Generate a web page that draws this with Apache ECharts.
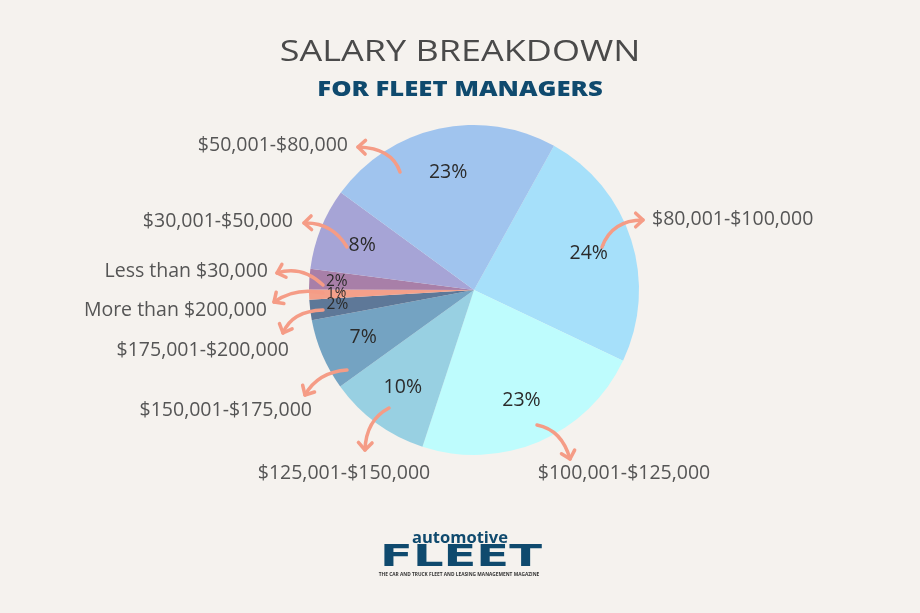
<!DOCTYPE html>
<html><head><meta charset="utf-8">
<script src="https://cdn.jsdelivr.net/npm/echarts@6/dist/echarts.min.js"></script>
<style>html,body{margin:0;padding:0;background:#f5f2ee;}#c{width:920px;height:613px;}</style>
</head><body><div id="c"></div>
<script>
// ---- data ----
const categories = ['$80,001-$100,000','$100,001-$125,000','$125,001-$150,000','$150,001-$175,000','$175,001-$200,000','More than $200,000','Less than $30,000','$30,001-$50,000','$50,001-$80,000'];
const values = [24, 23, 10, 7, 2, 1, 2, 8, 23];
const colors = ['#a6e0fa','#befcfd','#98d0e2','#74a3c2','#5e7898','#f4a08a','#a87fa8','#a6a4d6','#a0c4ee'];

// ---- annotation layout (category labels & curved arrows) ----
const labelPos = [[652,219,'left'],[624,473,'center'],[344,473,'center'],[312,410,'right'],[289,350,'right'],[267,310,'right'],[268,271,'right'],[293,221,'right'],[348,145,'right']];
// arrow: start x,y ; control x,y ; tip x,y
const arrows = [
  [602,247, 612,220, 643,220],
  [537,425, 562,430, 570,459],
  [389,408, 366,420, 365,450],
  [347,370, 318,372, 305,395],
  [323,310, 292,311, 283,333],
  [323,293, 296,287, 274,302],
  [323,285, 302,265, 277,273],
  [347,247, 332,222, 304,223],
  [400,172, 392,148, 358,147]
];

const FONT = '"Open Sans", Lato, sans-serif';
const ARROW = '#f59c86';
const center = [474, 290];
const pieData = categories.map((c, i) => ({name: c, value: values[i], itemStyle: {color: colors[i]}}));
const pctData = categories.map((c, i) => ({name: c, value: values[i]}));
const lblData = categories.map((c, i) => ({name: c, value: values[i]}));

const arrowGraphics = [];
arrows.forEach(a => {
  const [sx, sy, cx, cy, tx, ty] = a;
  arrowGraphics.push({type: 'bezierCurve', z: 10, shape: {x1: sx, y1: sy, cpx1: cx, cpy1: cy, x2: tx, y2: ty},
    style: {stroke: ARROW, lineWidth: 3.5, lineCap: 'round', fill: null}});
  const ang = Math.atan2(ty - cy, tx - cx);
  const L = 10, s = 0.75;
  arrowGraphics.push({type: 'polyline', z: 10, shape: {points: [
      [tx - L * Math.cos(ang - s), ty - L * Math.sin(ang - s)], [tx, ty],
      [tx - L * Math.cos(ang + s), ty - L * Math.sin(ang + s)]]},
    style: {stroke: ARROW, lineWidth: 3.5, lineCap: 'round', lineJoin: 'round', fill: null}});
});

const chart = echarts.init(document.getElementById('c'));
chart.setOption({
  backgroundColor: '#f5f2ee',
  animation: false,
  series: [
    {
      type: 'pie', center: center, radius: 165, startAngle: 61, clockwise: true, z: 1,
      data: pieData, label: {show: false}, labelLine: {show: false}, silent: true
    },
    {
      type: 'pie', center: center, radius: [70, 165], startAngle: 61, clockwise: true, z: 2,
      data: pctData, itemStyle: {color: 'rgba(0,0,0,0)'}, silent: true,
      label: {show: true, position: 'inside', formatter: '{c}%', color: '#2b2b2b', fontFamily: FONT, fontSize: 19.5},
      labelLine: {show: false},
      labelLayout: p => {
        const v = values[p.dataIndex];
        return v <= 2 ? {hideOverlap: false, dx: -17, fontSize: v <= 1 ? 14 : 15.5} : {hideOverlap: false};
      }
    },
    {
      type: 'pie', center: center, radius: 138, startAngle: 61, clockwise: true, z: 5,
      data: lblData, itemStyle: {color: 'rgba(0,0,0,0)'}, silent: true,
      label: {show: true, position: 'outside', formatter: '{b}', color: '#555555', fontFamily: FONT, fontSize: 19.5},
      labelLine: {show: false},
      labelLayout: p => {
        const l = labelPos[p.dataIndex];
        return {x: l[0], y: l[1], align: l[2], verticalAlign: 'middle', hideOverlap: false, moveOverlap: null};
      }
    }
  ],
  graphic: [
    {type: 'text', x: 460, y: 52, scaleX: 1.2, style: {text: 'SALARY BREAKDOWN', align: 'center', verticalAlign: 'middle', fontFamily: FONT, fontSize: 30, fill: '#4a4a4a'}},
    {type: 'text', x: 460, y: 90, scaleX: 1.22, style: {text: 'FOR FLEET MANAGERS', align: 'center', verticalAlign: 'middle', fontFamily: FONT, fontSize: 21, fontWeight: 800, fill: '#0f4a6e'}},
    {type: 'text', x: 460, y: 538, style: {text: 'automotive', align: 'center', verticalAlign: 'middle', fontFamily: FONT, fontSize: 16.5, fontWeight: 'bold', fill: '#0f4a6e'}},
    {type: 'text', x: 461, y: 558, scaleX: 1.55, style: {text: 'FLEET', align: 'center', verticalAlign: 'middle', fontFamily: '"DejaVu Sans"', fontSize: 31, fontWeight: 'bold', fill: '#0f4a6e'}},
    {type: 'text', x: 459, y: 575, style: {text: 'THE CAR AND TRUCK FLEET AND LEASING MANAGEMENT MAGAZINE', align: 'center', verticalAlign: 'middle', fontFamily: FONT, fontSize: 4.8, fontWeight: 'bold', fill: '#333'}}
  ].concat(arrowGraphics)
});
</script></body></html>
